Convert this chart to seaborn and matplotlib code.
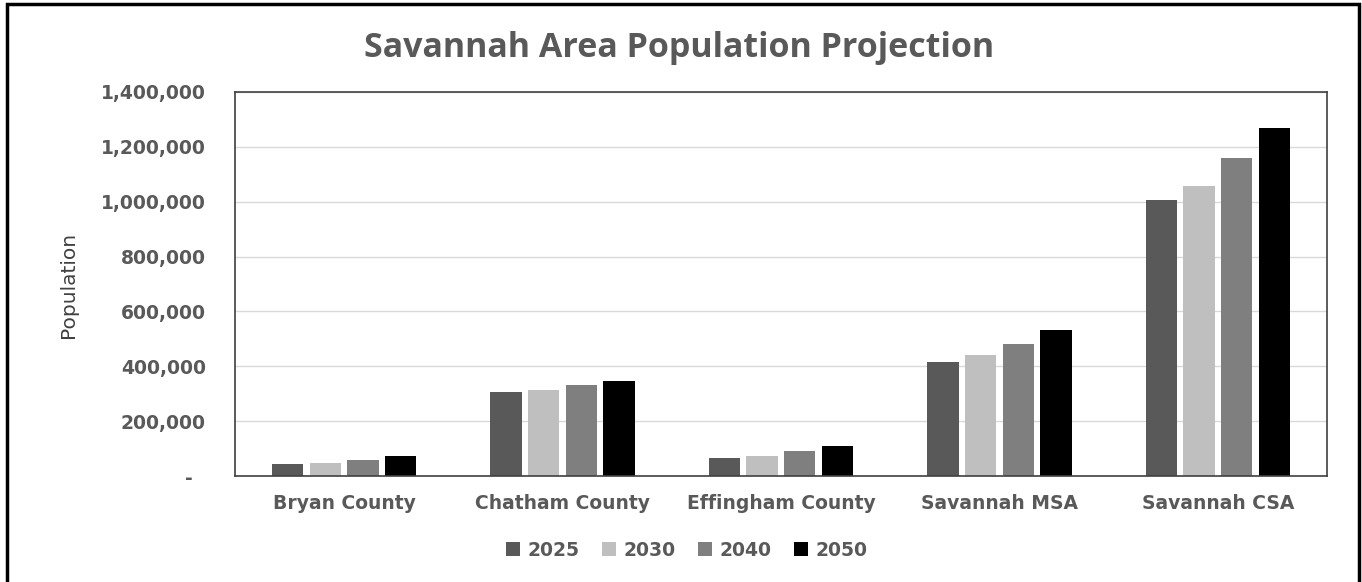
import matplotlib
matplotlib.use("Agg")
import matplotlib.pyplot as plt
from matplotlib.ticker import FuncFormatter, MultipleLocator
from matplotlib.patches import Rectangle
import pandas as pd
import seaborn as sns

# Population projections by area
areas = ["Bryan County", "Chatham County", "Effingham County", "Savannah MSA", "Savannah CSA"]
years = ["2025", "2030", "2040", "2050"]
pop_2025 = [42600, 306000, 65600, 415000, 1006000]
pop_2030 = [47000, 313000, 74000, 441000, 1056000]
pop_2040 = [60000, 330000, 90000, 481000, 1159000]
pop_2050 = [72000, 346000, 108000, 532000, 1270000]
year_colors = ["#595959", "#bfbfbf", "#7f7f7f", "#000000"]

rows = []
for yr, vals in zip(years, [pop_2025, pop_2030, pop_2040, pop_2050]):
    for area, v in zip(areas, vals):
        rows.append({"Area": area, "Year": yr, "Population": v})
df = pd.DataFrame(rows)

sns.set_theme(style="white")
plt.rcParams["font.family"] = ["DejaVu Sans"]
text_gray = "#595959"

fig = plt.figure(figsize=(13.62, 5.82), dpi=100)
ax = fig.add_axes([0.1725, 0.1821, 0.9743 - 0.1725, 0.842 - 0.1821])

sns.barplot(data=df, x="Area", y="Population", hue="Year", hue_order=years,
            order=areas, palette=year_colors, width=0.69, gap=0.17,
            linewidth=0, saturation=1, ax=ax)

ax.set_ylim(0, 1400000)
ax.yaxis.set_major_locator(MultipleLocator(200000))
ax.yaxis.set_major_formatter(FuncFormatter(lambda v, p: "-  " if v == 0 else f"{v:,.0f}"))
ax.grid(axis="y", color="#d9d9d9", linewidth=1)
ax.set_axisbelow(True)
for s in ax.spines.values():
    s.set_visible(True)
    s.set_color("#404040")
    s.set_linewidth(1.2)

ax.tick_params(axis="y", length=0, pad=21, colors=text_gray)
ax.tick_params(axis="x", length=0, pad=13, colors=text_gray)
for lbl in ax.get_xticklabels() + ax.get_yticklabels():
    lbl.set_fontweight("bold")
    lbl.set_fontsize(13.5)
    lbl.set_color(text_gray)

ax.set_xlabel("")
ax.set_ylabel("")
fig.text(0.05, 0.51, "Population", rotation=90, ha="center", va="center",
         fontsize=14.5, color="#404040", family=["Liberation Sans Narrow", "DejaVu Sans"])

fig.text(0.4985, 0.918, "Savannah Area Population Projection", ha="center", va="center",
         fontsize=24.5, fontweight="bold", color=text_gray, family=["Open Sans", "DejaVu Sans"])

handles, labels = ax.get_legend_handles_labels()
ax.get_legend().remove()
leg = fig.legend(handles, labels, loc="center", bbox_to_anchor=(687 / 1362, 1 - 550 / 582),
                 ncol=4, frameon=False, handlelength=0.75, handleheight=0.7,
                 handletextpad=0.4, columnspacing=1.2,
                 prop={"weight": "bold", "size": 13.5})
for t in leg.get_texts():
    t.set_color(text_gray)

# Outer chart frame
fig.patches.append(Rectangle((7 / 1362, -0.01), (1359 - 7) / 1362, 1.01 - 4 / 582,
                             transform=fig.transFigure, fill=False,
                             edgecolor="black", linewidth=2.5))

fig.savefig("out.png", dpi=100)
